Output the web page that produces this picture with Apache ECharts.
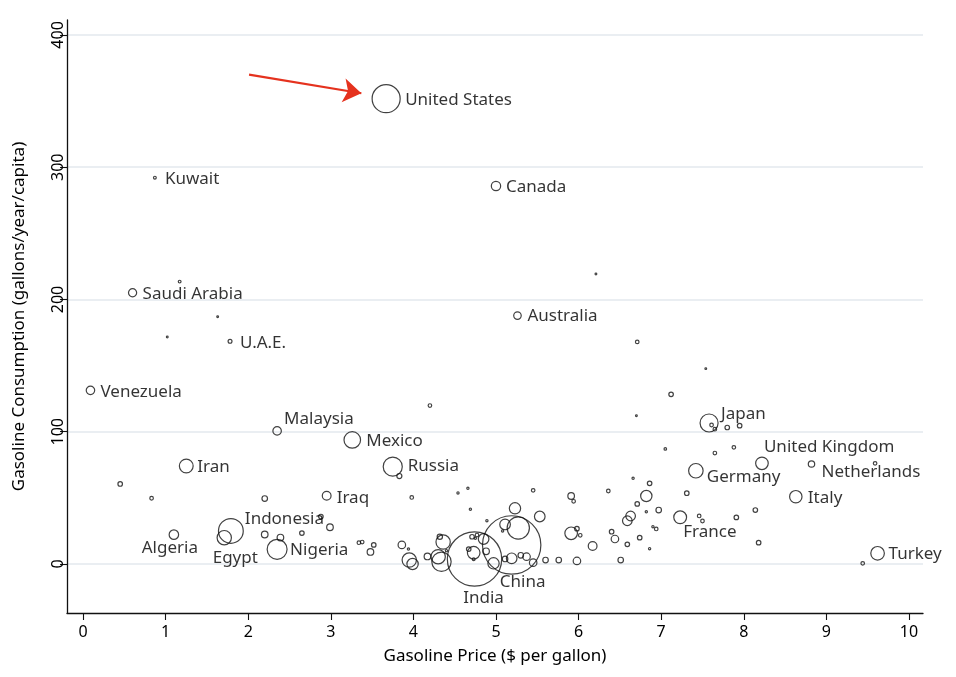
<!DOCTYPE html>
<html>
<head>
<meta charset="utf-8">
<script src="https://cdn.jsdelivr.net/npm/echarts@6/dist/echarts.min.js"></script>
<style>
html,body{margin:0;padding:0;background:#fff;}
#chart{width:956px;height:677px;}
</style>
</head>
<body>
<div id="chart"></div>
<script>
// ---- data ----
const names = [
  "United States","Kuwait","Canada","Saudi Arabia","U.A.E.","Venezuela","Australia","Malaysia",
  "Mexico","Russia","Iran","Iraq","Indonesia","Egypt","Algeria","Nigeria","India","China",
  "Japan","United Kingdom","Germany","Netherlands","Italy","France","Turkey"
];
const price = [
  3.67,0.87,5.00,0.60,1.78,0.09,5.26,2.35,
  3.26,3.75,1.25,2.95,1.79,1.71,1.10,2.35,4.74,5.19,
  7.58,8.22,7.42,8.82,8.63,7.23,9.62
];
const consumption = [
  351.8,292.1,285.8,205.1,168.4,131.3,187.8,100.6,
  93.8,73.6,74.1,51.6,25.0,19.9,22.2,11.1,3.8,14.4,
  106.6,76.1,70.5,75.6,50.9,35.3,8.1
];
const population = [
  307,3,34,26,6,28,22,28,
  107,142,74,30,240,80,35,155,1155,1331,
  127,62,82,16,60,64,72
];
// unlabelled countries
const otherPrice = [
  1.17,1.63,1.02,4.20,6.21,6.71,7.54,7.12,6.70,7.05,3.83,6.66,6.86,0.45,0.83,2.20,2.88,2.99,2.20,2.39,
  2.65,3.34,3.38,3.52,3.48,3.98,4.54,4.66,5.45,4.69,5.23,5.53,4.89,5.11,5.27,5.08,4.32,4.36,3.86,3.94,
  3.95,3.99,4.17,4.34,4.30,4.40,4.71,4.77,4.75,4.85,4.67,4.73,4.73,4.88,4.97,5.11,5.19,5.30,5.37,5.45,
  5.60,5.76,5.91,5.98,6.02,5.91,5.94,6.36,5.98,6.17,6.40,6.44,6.51,6.59,6.63,6.59,6.71,6.74,6.82,6.82,
  6.86,6.90,6.94,6.97,7.31,7.46,7.50,7.65,7.88,7.61,7.65,7.80,7.95,7.91,8.14,8.18,9.59,9.44
];
const otherConsumption = [
  213.5,187.0,171.6,119.8,219.3,167.9,147.7,128.3,112.1,87.0,66.5,64.8,61.0,60.5,49.7,49.5,35.9,27.8,22.3,20.0,
  23.4,16.1,16.6,14.4,9.1,50.3,53.7,57.2,55.7,41.4,42.1,35.9,32.7,29.9,27.2,25.0,20.6,16.6,14.4,11.3,
  3.0,0.0,5.7,1.7,5.5,10.1,20.6,21.9,19.4,18.9,11.3,8.5,3.6,9.6,0.5,3.8,4.3,6.6,5.5,1.0,
  3.0,3.0,23.2,26.7,21.7,51.4,47.4,55.2,2.3,13.6,24.4,18.9,3.0,14.9,36.3,32.7,45.4,19.9,51.4,39.5,
  11.6,28.2,26.5,40.8,53.5,36.3,32.5,83.9,88.2,105.1,101.9,103.2,104.6,35.2,40.8,16.1,76.1,0.5
];
const otherPopulation = [
  3,1.2,1.2,5,1.2,5,1.2,8,1.2,2.5,10,2,8,8,5,12,8,17,17,17,
  8,5,5,8,17,5,2,2,5,2,50,44,2,44,193,2,11,80,22,2,
  80,50,17,146,80,2,8,5,2,44,8,62,3,17,50,12,44,12,22,22,
  12,12,62,8,5,17,5,5,22,30,8,22,12,8,36,36,8,8,50,2,
  2,2,5,12,8,5,5,5,5,5,5,8,8,8,8,8,5,5
];
const xTicks = [0,1,2,3,4,5,6,7,8,9,10];
const yTicks = [0,100,200,300,400];
const arrowFrom = [2.01, 370.0];
const arrowTo = [3.37, 355.9];

// ---- label placement (style) ----
const labelPlace = {
  "United States":["left",19,1], "Kuwait":["left",10,1], "Canada":["left",10,1],
  "Saudi Arabia":["left",10,1], "U.A.E.":["left",10,2], "Venezuela":["left",10,2],
  "Australia":["left",10,1], "Malaysia":["left",7,-12], "Mexico":["left",14,1],
  "Russia":["left",15,0], "Iran":["left",11,1], "Iraq":["left",10,2],
  "Indonesia":["left",14,-12], "Algeria":["center",-4,14], "Egypt":["center",11,20],
  "Nigeria":["left",13,1], "India":["center",9,39], "China":["center",11,37],
  "Japan":["left",12,-9], "United Kingdom":["left",2,-16], "Germany":["left",11,6],
  "Netherlands":["left",10,8], "Italy":["left",12,1], "France":["left",3,15], "Turkey":["left",11,1]
};

const K = 1.6;
const sizeFn = v => Math.max(1.2, K * Math.sqrt(v[2]));

const labeledData = names.map((n, i) => {
  const p = labelPlace[n];
  return {
    value: [price[i], consumption[i], population[i], n],
    label: { show: true, position: 'inside', align: p[0], verticalAlign: 'middle', offset: [p[1], p[2]] }
  };
});
const otherData = otherPrice.map((x, i) => [x, otherConsumption[i], otherPopulation[i]]);

const circleStyle = { color: 'rgba(0,0,0,0)', borderColor: '#111', borderWidth: 1.2 };
const font = '"Noto Sans", "Open Sans", sans-serif';

const chart = echarts.init(document.getElementById('chart'), null, { renderer: 'canvas' });
chart.setOption({
  animation: false,
  backgroundColor: '#ffffff',
  grid: { left: 67, right: 33, top: 20, bottom: 64, containLabel: false },
  xAxis: {
    type: 'value', min: -0.194, max: 10.17,
    name: 'Gasoline Price ($ per gallon)', nameLocation: 'middle', nameGap: 35,
    nameTextStyle: { fontFamily: font, fontSize: 17, color: '#000' },
    axisLine: { show: true, onZero: false, lineStyle: { color: '#111', width: 1.3 } },
    axisTick: { show: true, length: 7, customValues: xTicks, lineStyle: { color: '#111', width: 1.1 } },
    axisLabel: { customValues: xTicks, margin: 11, fontFamily: font, fontSize: 16, color: '#000' },
    splitLine: { show: false }
  },
  yAxis: {
    type: 'value', min: -37.05, max: 411.3,
    name: 'Gasoline Consumption (gallons/year/capita)', nameLocation: 'middle', nameGap: 39,
    nameTextStyle: { fontFamily: font, fontSize: 17, color: '#000' },
    axisLine: { show: true, onZero: false, lineStyle: { color: '#111', width: 1.3 } },
    axisTick: { show: true, length: 7, customValues: yTicks, lineStyle: { color: '#111', width: 1.1 } },
    axisLabel: { customValues: yTicks, rotate: 90, margin: 1, fontFamily: font, fontSize: 16, color: '#000' },
    splitLine: { show: true, lineStyle: { color: '#e3e9ee', width: 1.5 } }
  },
  series: [
    {
      type: 'scatter', data: otherData, symbol: 'circle', symbolSize: sizeFn,
      itemStyle: circleStyle, silent: true, z: 2
    },
    {
      type: 'scatter', data: labeledData, symbol: 'circle', symbolSize: sizeFn,
      itemStyle: circleStyle, silent: true, z: 3,
      label: { show: true, formatter: p => p.value[3], fontFamily: font, fontSize: 17, color: '#000' },
      markLine: {
        silent: true, symbol: ['none', 'arrow'], symbolSize: 18,
        label: { show: false },
        lineStyle: { color: '#e5321e', width: 2.2, type: 'solid' },
        data: [[{ coord: arrowFrom }, { coord: arrowTo }]]
      }
    }
  ]
});
</script>
</body>
</html>
